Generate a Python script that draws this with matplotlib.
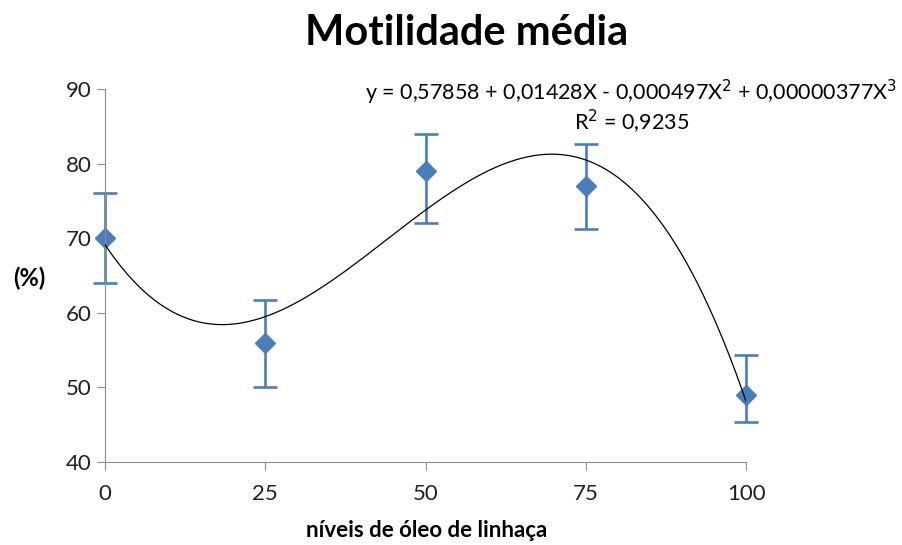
import numpy as np
import matplotlib.pyplot as plt

plt.rcParams['font.family'] = ['Lato', 'DejaVu Sans']

# dados
niveis = [0, 25, 50, 75, 100]
motilidade = [70, 56, 79, 77, 49]
erro_inf = [6.0, 6.0, 7.0, 5.8, 3.6]
erro_sup = [6.0, 5.7, 5.0, 5.6, 5.3]

eq_texto = "y = 0,57858 + 0,01428X - 0,000497X$^{2}$ + 0,00000377X$^{3}$"
r2_texto = "R$^{2}$ = 0,9235"

azul = '#4a7ebb'

fig = plt.figure(figsize=(9.03, 5.45), dpi=100)
ax = fig.add_axes([0.1163, 0.1523, 0.7099, 0.6844])

# linha de tendência polinomial (3a ordem)
coef = np.polyfit(niveis, motilidade, 3)
xs = np.linspace(0, 100, 300)
ax.plot(xs, np.polyval(coef, xs), color='black', lw=0.9, zorder=3)

ax.errorbar(niveis, motilidade, yerr=[erro_inf, erro_sup], fmt='D',
            color=azul, ms=10.5, ecolor=azul, elinewidth=1.9, capsize=8.5,
            capthick=1.9, clip_on=False, zorder=2)

ax.set_xlim(0, 100)
ax.set_ylim(40, 90)
ax.set_xticks(niveis)
ax.set_yticks(range(40, 91, 10))
for s in ['top', 'right']:
    ax.spines[s].set_visible(False)
for s in ['left', 'bottom']:
    ax.spines[s].set_color('#8c8c8c')
ax.tick_params(direction='out', length=6, color='#8c8c8c', labelsize=16,
               labelcolor='#202020')
ax.tick_params(axis='x', pad=10)

fig.text(0.517, 0.94, "Motilidade média", ha='center', va='center',
         fontsize=30, fontweight='bold')
fig.text(0.472, 0.027, "níveis de óleo de linhaça", ha='center', va='center',
         fontsize=16, fontweight='bold')
fig.text(0.032, 0.49, "(%)", ha='center', va='center', fontsize=17,
         fontweight='bold')
fig.text(0.699, 0.83, eq_texto, ha='center', va='center', fontsize=15.5)
fig.text(0.699, 0.776, r2_texto, ha='center', va='center', fontsize=15.5)

fig.savefig('out.png', dpi=100)
